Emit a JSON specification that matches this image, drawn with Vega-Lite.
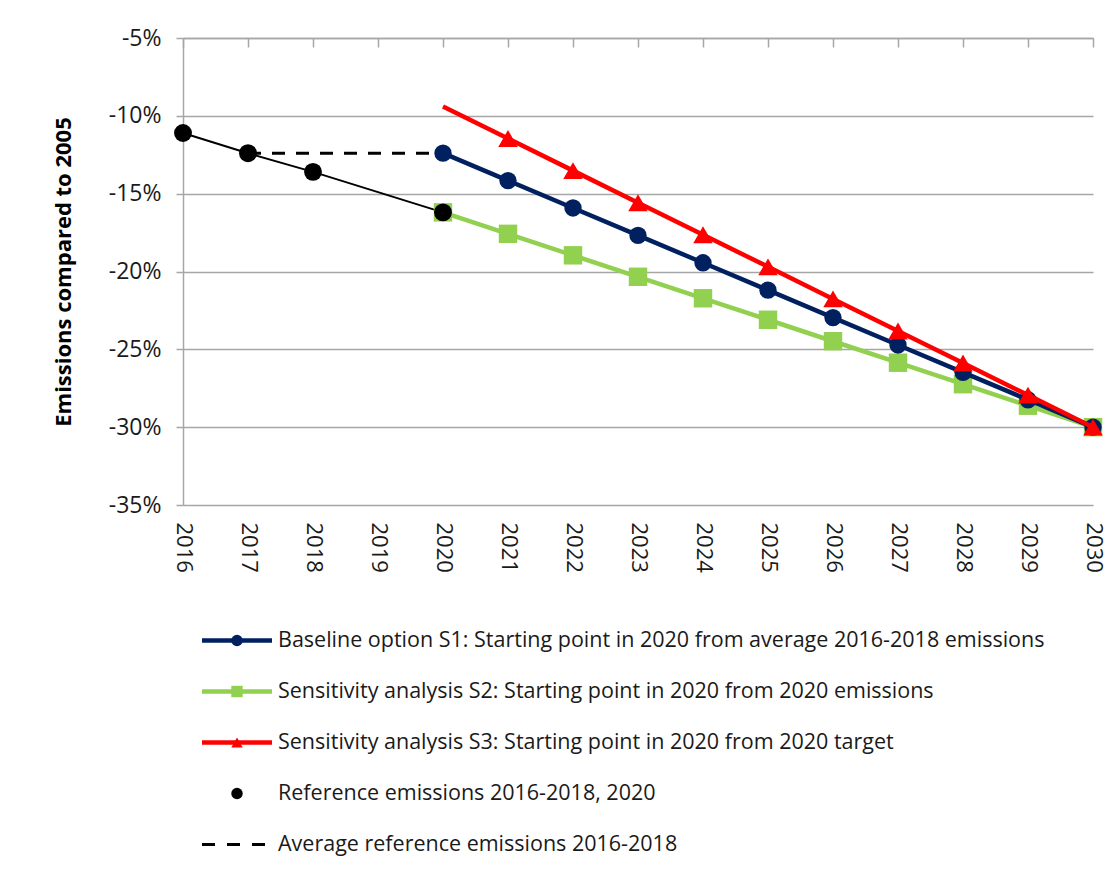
{
  "$schema": "https://vega.github.io/schema/vega-lite/v6.json",
  "padding": {"left": 52, "top": 27, "right": 0, "bottom": 5},
  "background": "white",
  "spacing": 42,
  "config": {
    "font": "Open Sans",
    "view": {"stroke": null},
    "axis": {"labelFont": "Open Sans", "titleFont": "Open Sans"}
  },
  "datasets": {
    "main": [
      {"series": "Ref", "year": 2016, "value": -11.1},
      {"series": "Ref", "year": 2017, "value": -12.4},
      {"series": "Ref", "year": 2018, "value": -13.6},
      {"series": "Ref", "year": 2020, "value": -16.2},
      {"series": "Avg", "year": 2017, "value": -12.4},
      {"series": "Avg", "year": 2020, "value": -12.4},
      {"series": "S1", "year": 2020, "value": -12.4},
      {"series": "S1", "year": 2021, "value": -14.16},
      {"series": "S1", "year": 2022, "value": -15.92},
      {"series": "S1", "year": 2023, "value": -17.68},
      {"series": "S1", "year": 2024, "value": -19.44},
      {"series": "S1", "year": 2025, "value": -21.2},
      {"series": "S1", "year": 2026, "value": -22.96},
      {"series": "S1", "year": 2027, "value": -24.72},
      {"series": "S1", "year": 2028, "value": -26.48},
      {"series": "S1", "year": 2029, "value": -28.24},
      {"series": "S1", "year": 2030, "value": -30.0},
      {"series": "S2", "year": 2020, "value": -16.2},
      {"series": "S2", "year": 2021, "value": -17.58},
      {"series": "S2", "year": 2022, "value": -18.96},
      {"series": "S2", "year": 2023, "value": -20.34},
      {"series": "S2", "year": 2024, "value": -21.72},
      {"series": "S2", "year": 2025, "value": -23.1},
      {"series": "S2", "year": 2026, "value": -24.48},
      {"series": "S2", "year": 2027, "value": -25.86},
      {"series": "S2", "year": 2028, "value": -27.24},
      {"series": "S2", "year": 2029, "value": -28.62},
      {"series": "S2", "year": 2030, "value": -30.0},
      {"series": "S3", "year": 2020, "value": -9.4},
      {"series": "S3", "year": 2021, "value": -11.46},
      {"series": "S3", "year": 2022, "value": -13.52},
      {"series": "S3", "year": 2023, "value": -15.58},
      {"series": "S3", "year": 2024, "value": -17.64},
      {"series": "S3", "year": 2025, "value": -19.7},
      {"series": "S3", "year": 2026, "value": -21.76},
      {"series": "S3", "year": 2027, "value": -23.82},
      {"series": "S3", "year": 2028, "value": -25.88},
      {"series": "S3", "year": 2029, "value": -27.94},
      {"series": "S3", "year": 2030, "value": -30.0}
    ],
    "legend": [
      {"order": 1, "key": "S1", "label": "Baseline option S1: Starting point in 2020 from average 2016-2018 emissions"},
      {"order": 2, "key": "S2", "label": "Sensitivity analysis S2: Starting point in 2020 from 2020 emissions"},
      {"order": 3, "key": "S3", "label": "Sensitivity analysis S3: Starting point in 2020 from 2020 target"},
      {"order": 4, "key": "Ref", "label": "Reference emissions 2016-2018, 2020"},
      {"order": 5, "key": "Avg", "label": "Average reference emissions 2016-2018"}
    ]
  },
  "vconcat": [
    {
      "width": 910,
      "height": 467,
      "data": {"name": "main"},
      "resolve": {"axis": {"x": "independent"}},
      "encoding": {
        "x": {
          "field": "year", "type": "quantitative",
          "scale": {"domain": [2016, 2030], "nice": false, "zero": false},
          "axis": null
        },
        "y": {
          "field": "value", "type": "quantitative",
          "scale": {"domain": [-35, -5], "nice": false, "zero": false},
          "axis": {
            "values": [-35, -30, -25, -20, -15, -10, -5],
            "labelExpr": "datum.value + '%'",
            "labelFontSize": 23, "labelColor": "#1a1a1a", "labelPadding": 15,
            "tickSize": 7, "tickColor": "#A6A6A6", "tickWidth": 1.5,
            "domainColor": "#A6A6A6", "domainWidth": 1.5,
            "grid": true, "gridColor": "#A6A6A6", "gridWidth": 1.5,
            "title": "Emissions compared to 2005", "titleFontSize": 22, "titleFontWeight": "bold",
            "titleColor": "#000000", "titlePadding": 33
          }
        }
      },
      "layer": [
        {
          "mark": {"type": "rule", "opacity": 0},
          "encoding": {
            "x": {
              "field": "year", "type": "quantitative",
              "axis": {
                "orient": "top", "values": [2016, 2017, 2018, 2019, 2020, 2021, 2022, 2023, 2024, 2025, 2026, 2027, 2028, 2029, 2030],
                "labels": false, "title": null, "grid": false, "domain": true, "domainColor": "#A6A6A6", "domainWidth": 1.5,
                "ticks": true, "tickSize": -9, "tickColor": "#A6A6A6", "tickWidth": 1.5
              }
            }
          }
        },
        {
          "mark": {"type": "rule", "opacity": 0},
          "encoding": {
            "x": {
              "field": "year", "type": "quantitative",
              "axis": {
                "orient": "bottom", "values": [2016, 2017, 2018, 2019, 2020, 2021, 2022, 2023, 2024, 2025, 2026, 2027, 2028, 2029, 2030],
                "format": "d", "labelAngle": 90, "labelFontSize": 22, "labelColor": "#1a1a1a", "labelPadding": 17,
                "labelBaseline": "middle", "labelAlign": "left",
                "ticks": false, "domain": false, "grid": false, "title": null
              }
            }
          }
        },
        {
          "transform": [{"filter": "datum.series === 'Ref'"}],
          "mark": {"type": "line", "color": "#000000", "strokeWidth": 2}
        },
        {
          "transform": [{"filter": "datum.series === 'Avg'"}],
          "mark": {"type": "line", "color": "#000000", "strokeWidth": 3, "strokeDash": [13, 11]}
        },
        {
          "transform": [{"filter": "datum.series === 'S2'"}],
          "mark": {"type": "line", "color": "#92D050", "strokeWidth": 4.5}
        },
        {
          "transform": [{"filter": "datum.series === 'S2'"}],
          "mark": {"type": "point", "shape": "square", "filled": true, "color": "#92D050", "size": 340, "opacity": 1}
        },
        {
          "transform": [{"filter": "datum.series === 'S1'"}],
          "mark": {"type": "line", "color": "#002060", "strokeWidth": 4.5}
        },
        {
          "transform": [{"filter": "datum.series === 'S1'"}],
          "mark": {"type": "point", "shape": "circle", "filled": true, "color": "#002060", "size": 300, "opacity": 1}
        },
        {
          "transform": [{"filter": "datum.series === 'S3'"}],
          "mark": {"type": "line", "color": "#FF0000", "strokeWidth": 4.5}
        },
        {
          "transform": [{"filter": "datum.series === 'S3' && datum.year > 2020"}],
          "mark": {"type": "point", "shape": "triangle-up", "filled": true, "color": "#FF0000", "size": 380, "opacity": 1}
        },
        {
          "transform": [{"filter": "datum.series === 'Ref'"}],
          "mark": {"type": "point", "shape": "circle", "filled": true, "color": "#000000", "size": 320, "opacity": 1}
        }
      ]
    },
    {
      "width": 89,
      "height": 255,
      "data": {"name": "legend"},
      "encoding": {
        "y": {
          "field": "label", "type": "nominal",
          "sort": {"field": "order", "op": "min", "order": "ascending"},
          "scale": {"type": "point", "padding": 0.5},
          "axis": null
        }
      },
      "layer": [
        {
          "transform": [{"filter": "datum.key === 'S1' || datum.key === 'S2' || datum.key === 'S3'"}],
          "mark": {"type": "rule", "strokeWidth": 4.5},
          "encoding": {
            "x": {"datum": 0, "type": "quantitative", "scale": {"domain": [-0.2714, 1], "nice": false, "zero": false}, "axis": null},
            "x2": {"datum": 1},
            "color": {"field": "key", "type": "nominal", "scale": {"domain": ["S1", "S2", "S3", "Ref", "Avg"], "range": ["#002060", "#92D050", "#FF0000", "#000000", "#000000"]}, "legend": null}
          }
        },
        {
          "transform": [{"filter": "datum.key === 'Avg'"}],
          "mark": {"type": "rule", "strokeWidth": 3, "strokeDash": [13, 12], "color": "#000000"},
          "encoding": {
            "x": {"datum": 0, "type": "quantitative"},
            "x2": {"datum": 1}
          }
        },
        {
          "transform": [{"filter": "datum.key !== 'Avg'"}],
          "mark": {"type": "point", "filled": true, "opacity": 1, "size": 130},
          "encoding": {
            "x": {"datum": 0.5, "type": "quantitative"},
            "color": {"field": "key", "type": "nominal", "scale": {"domain": ["S1", "S2", "S3", "Ref", "Avg"], "range": ["#002060", "#92D050", "#FF0000", "#000000", "#000000"]}, "legend": null},
            "shape": {"field": "key", "type": "nominal", "scale": {"domain": ["S1", "S2", "S3", "Ref", "Avg"], "range": ["circle", "square", "triangle-up", "circle", "circle"]}, "legend": null}
          }
        },
        {
          "mark": {"type": "text", "align": "left", "baseline": "middle", "dx": 6, "fontSize": 21.5, "color": "#1a1a1a", "font": "Open Sans"},
          "encoding": {
            "x": {"datum": 1, "type": "quantitative"},
            "text": {"field": "label", "type": "nominal"}
          }
        }
      ]
    }
  ]
}
